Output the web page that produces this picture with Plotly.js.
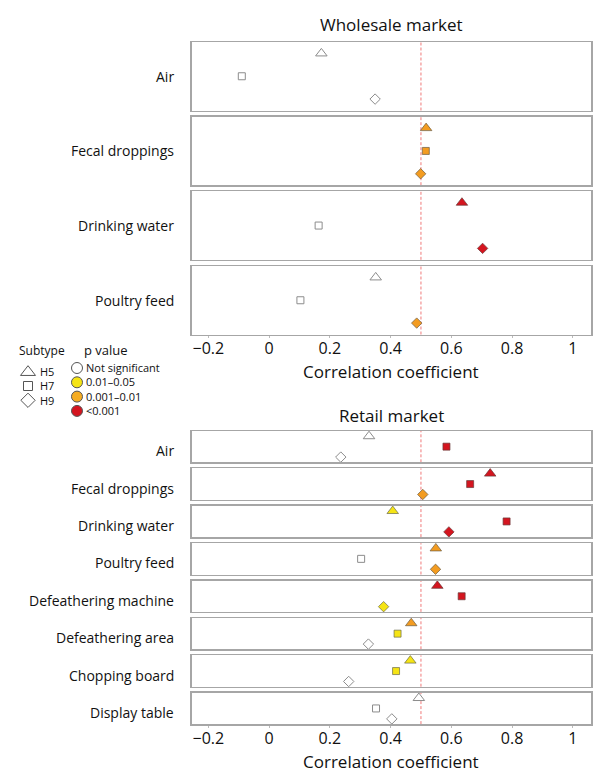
<!DOCTYPE html>
<html>
<head>
<meta charset="utf-8">
<script src="https://cdn.plot.ly/plotly-3.0.1.min.js"></script>
<style>html,body{margin:0;padding:0;background:#fff;}#chart{width:600px;height:777px;}</style>
</head>
<body>
<div id="chart"></div>
<script>
// ---- data ----
const subtypes = ['H5', 'H7', 'H9'];
const wholesaleSources = ['Air', 'Fecal droppings', 'Drinking water', 'Poultry feed'];
const wholesaleH5 = [0.172, 0.517, 0.635, 0.351];
const wholesaleH7 = [-0.090, 0.516, 0.163, 0.103];
const wholesaleH9 = [0.349, 0.499, 0.703, 0.486];
const wholesaleP_H5 = ['ns', 'p01', 'p001', 'ns'];
const wholesaleP_H7 = ['ns', 'p01', 'ns', 'ns'];
const wholesaleP_H9 = ['ns', 'p01', 'p001', 'p01'];

const retailSources = ['Air', 'Fecal droppings', 'Drinking water', 'Poultry feed',
  'Defeathering machine', 'Defeathering area', 'Chopping board', 'Display table'];
const retailH5 = [0.329, 0.728, 0.407, 0.549, 0.554, 0.468, 0.465, 0.493];
const retailH7 = [0.584, 0.662, 0.782, 0.303, 0.634, 0.423, 0.418, 0.352];
const retailH9 = [0.236, 0.506, 0.592, 0.548, 0.377, 0.327, 0.262, 0.404];
const retailP_H5 = ['ns', 'p001', 'p05', 'p01', 'p001', 'p01', 'p05', 'ns'];
const retailP_H7 = ['p001', 'p001', 'p001', 'ns', 'p001', 'p05', 'p05', 'ns'];
const retailP_H9 = ['ns', 'p01', 'p001', 'p01', 'p05', 'ns', 'ns', 'ns'];

const threshold = 0.5;
const pClasses = ['ns', 'p05', 'p01', 'p001'];
const pLabels = ['Not significant', '0.01–0.05', '0.001–0.01', '<0.001'];

// ---- styles ----
const FONT = 'Open Sans, sans-serif';
const TXT = '#111111';
const pFill = {ns: '#ffffff', p05: '#f5e414', p01: '#f39c21', p001: '#d4151f'};
const pLine = {ns: '#8c8c8c', p05: '#6a6a4a', p01: '#6a5a40', p001: '#6a3a3a'};
const symbols = {H5: 'triangle-up', H7: 'square', H9: 'diamond'};
const sizes = {H5: 10, H7: 7, H9: 8};
const W = 600, H = 777;
const X0 = 191.7, X1 = 591;
const boxColor = '#a6a6a6';

const panels = [];
const wTops = [42, 116.7, 191.3, 266], wH = 68.5;
const rTops = [431, 468.4, 505.8, 543.2, 580.6, 618, 655.4, 692.8], rH = 31.3;
wholesaleSources.forEach((s, i) => panels.push({label: s, top: wTops[i], h: wH,
  vals: [wholesaleH5[i], wholesaleH7[i], wholesaleH9[i]],
  ps: [wholesaleP_H5[i], wholesaleP_H7[i], wholesaleP_H9[i]], bottom: i === wholesaleSources.length - 1, retail: false}));
retailSources.forEach((s, i) => panels.push({label: s, top: rTops[i], h: rH,
  vals: [retailH5[i], retailH7[i], retailH9[i]],
  ps: [retailP_H5[i], retailP_H7[i], retailP_H9[i]], bottom: i === retailSources.length - 1, retail: true}));

const traces = [];
const layout = {
  width: W, height: H,
  margin: {l: 0, r: 0, t: 0, b: 0},
  paper_bgcolor: '#fff', plot_bgcolor: '#fff',
  showlegend: false,
  font: {family: FONT, color: TXT},
  shapes: [], annotations: []
};

panels.forEach((p, k) => {
  const n = k + 1;
  const xa = 'xaxis' + (n === 1 ? '' : n), ya = 'yaxis' + (n === 1 ? '' : n);
  const xr = 'x' + (n === 1 ? '' : n), yr = 'y' + (n === 1 ? '' : n);
  traces.push({
    type: 'scatter', mode: 'markers', xaxis: xr, yaxis: yr,
    x: p.vals, y: subtypes, cliponaxis: false, hoverinfo: 'x+y',
    marker: {
      opacity: 1,
      symbol: subtypes.map(s => symbols[s]),
      size: subtypes.map(s => sizes[s]),
      color: p.ps.map(c => pFill[c]),
      line: {color: p.ps.map(c => pLine[c]), width: p.ps.map(c => c === 'ns' ? 1 : 0.7)}
    }
  });
  layout[xa] = {
    domain: [X0 / W, X1 / W], range: [-0.255, 1.06], anchor: yr,
    showgrid: false, zeroline: false, showline: true, mirror: true,
    linecolor: boxColor, linewidth: 1.5,
    ticks: p.bottom ? 'outside' : '', ticklen: 2, tickcolor: '#bbbbbb', tickwidth: 1,
    ticklabelstandoff: -3,
    dtick: 0.2, tick0: 0, showticklabels: p.bottom,
    tickfont: {family: FONT, size: 16, color: TXT}, fixedrange: true
  };
  layout[ya] = {
    domain: [1 - (p.top + p.h) / H, 1 - p.top / H], anchor: xr,
    type: 'category', categoryarray: subtypes, range: [2.5, -0.5],
    showgrid: false, zeroline: false, showline: true, mirror: true,
    linecolor: boxColor, linewidth: 1.5, ticks: '', showticklabels: false, fixedrange: true
  };
  layout.shapes.push({type: 'line', xref: xr, yref: yr + ' domain', x0: threshold, x1: threshold, y0: 0, y1: 1,
    line: {color: '#f07a7a', width: 1, dash: '3px,2px'}, layer: 'below'});
  layout.annotations.push({xref: 'paper', yref: yr + ' domain', x: 176 / W, y: 0.5, xanchor: 'right', yanchor: 'middle',
    yshift: p.retail ? -4 : 0, text: p.label, showarrow: false, font: {family: FONT, size: 14, color: TXT}});
});

// titles
const cx = (X0 + X1) / 2 / W;
[['Wholesale market', 25, 17], ['Retail market', 415, 17], ['Correlation coefficient', 371, 17], ['Correlation coefficient', 761, 17]]
  .forEach(([t, py, fs]) => layout.annotations.push({xref: 'paper', yref: 'paper', x: cx, y: 1 - py / H,
    xanchor: 'center', yanchor: 'middle', text: t, showarrow: false, font: {family: FONT, size: fs, color: TXT}}));

// ---- custom legend (hidden axis, pixel-like coordinates) ----
const L = 13;
layout['xaxis' + L] = {domain: [0, 180 / W], range: [0, 180], visible: false, fixedrange: true, anchor: 'y' + L};
layout['yaxis' + L] = {domain: [1 - 430 / H, 1 - 340 / H], range: [430, 340], visible: false, fixedrange: true, anchor: 'x' + L};
const LSP = 14.3;
const legSubX = 28, legSubY0 = 371.7, legSubTextX = 38;
const legPX = 77, legPY0 = 368, legPTextX = 84;
traces.push({type: 'scatter', mode: 'markers', xaxis: 'x' + L, yaxis: 'y' + L, hoverinfo: 'skip', cliponaxis: false,
  x: subtypes.map(() => legSubX), y: subtypes.map((s, i) => legSubY0 + i * LSP + (i === 0 ? 0.5 : 0)),
  marker: {opacity: 1, symbol: subtypes.map(s => symbols[s]), size: [13, 9, 11], color: '#fff', line: {color: '#555', width: 1}}});
traces.push({type: 'scatter', mode: 'markers', xaxis: 'x' + L, yaxis: 'y' + L, hoverinfo: 'skip', cliponaxis: false,
  x: pClasses.map(() => legPX), y: pClasses.map((c, i) => legPY0 + i * LSP),
  marker: {opacity: 1, symbol: 'circle', size: 11, color: pClasses.map(c => c === 'p01' ? '#f5ac22' : pFill[c]), line: {color: '#555', width: 1}}});
const legFont = {family: FONT, size: 11, color: TXT};
layout.annotations.push({xref: 'x' + L, yref: 'y' + L, x: 17, y: 350.5, xanchor: 'left', yanchor: 'middle', text: 'Subtype', showarrow: false, font: {family: FONT, size: 12, color: TXT}});
layout.annotations.push({xref: 'x' + L, yref: 'y' + L, x: 82, y: 350, xanchor: 'left', yanchor: 'middle', text: 'p value', showarrow: false, font: {family: FONT, size: 13, color: TXT}});
layout.annotations.push({xref: 'x' + L, yref: 'y' + L, x: legSubTextX, y: legSubY0 + LSP + 0.5, xanchor: 'left', yanchor: 'middle', align: 'left',
  text: subtypes.join('<br>'), showarrow: false, font: legFont});
layout.annotations.push({xref: 'x' + L, yref: 'y' + L, x: legPTextX, y: legPY0 + 1.5 * LSP, xanchor: 'left', yanchor: 'middle', align: 'left',
  text: pLabels.map(t => t.replace('<', '&lt;')).join('<br>'), showarrow: false, font: legFont});

Plotly.newPlot('chart', traces, layout, {displayModeBar: false, staticPlot: true});
</script>
</body>
</html>
